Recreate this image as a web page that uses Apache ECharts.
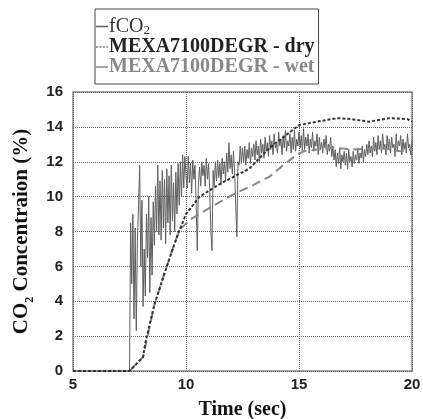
<!DOCTYPE html>
<html><head><meta charset="utf-8">
<script src="https://cdn.jsdelivr.net/npm/echarts@6/dist/echarts.min.js"></script>
<style>html,body{margin:0;padding:0;background:#fff}#c{width:423px;height:419px}</style>
</head><body><div id="c"></div>
<script>
// x ticks
const xTicks = [5, 10, 15, 20];
const yTicks = [0, 2, 4, 6, 8, 10, 12, 14, 16];

// fCO2: sampled every 0.05 s starting at 7.5 s (zero before)
const fco2Start = 7.5;
const fco2Step = 0.05;
const fco2Values = [
  0.0, 8.5, 5.0, 9.0, 3.0, 8.2, 2.3, 7.5, 9.5, 11.8,
  6.0, 9.8, 3.7, 7.0, 4.3, 9.0, 6.5, 10.0, 4.5, 8.8,
  5.5, 9.7, 7.2, 10.6, 8.0, 11.8, 7.8, 10.9, 7.5, 11.5,
  8.2, 11.0, 7.3, 11.6, 8.5, 11.2, 7.8, 11.8, 8.6, 10.8,
  8.0, 11.4, 9.0, 11.9, 9.5, 12.0, 10.0, 12.4, 10.5, 12.3,
  11.2,
  10.5, 12.3, 10.8, 11.9, 10.2, 12.1, 11.0, 11.8, 9.5, 6.9,
  10.8, 11.7, 10.6, 12.0, 11.2, 11.8, 10.6, 12.2, 11.0, 11.9,
  10.4, 8.0, 6.9, 11.5, 10.6, 12.0, 10.9, 12.1, 11.1, 11.9,
  10.7, 12.2, 11.3, 12.0, 10.9, 12.5, 11.4, 13.1, 11.6, 12.4,
  11.3, 12.6, 11.5, 9.5, 7.7, 12.0, 11.8, 12.9, 11.9, 12.8,
  12.0, 12.9, 11.8, 12.7, 12.2, 13.1, 11.9, 12.8, 12.3, 13.0,
  12.1, 13.2, 12.4, 12.9, 12.0, 13.3, 12.5, 13.0, 12.2, 13.4,
  12.6, 13.1, 12.3, 13.5, 12.7, 13.2, 12.4, 13.6, 12.8, 13.0,
  12.5, 13.7, 12.9, 13.3, 12.4, 13.5, 12.8, 13.8, 12.6, 13.2,
  12.9, 13.6, 12.5, 13.4, 12.7, 13.8, 12.6, 13.3, 12.9, 13.7,
  12.8, 13.5, 12.6, 13.9, 12.7, 13.4, 12.9, 13.6, 12.5, 13.3,
  12.8, 13.7, 12.6, 13.2, 12.9, 13.6, 12.4, 13.4, 12.7, 13.1,
  12.5, 13.3, 12.8, 13.5, 12.4, 13.0, 12.6, 13.4, 12.3, 12.9,
  12.1, 12.7, 11.7, 12.5, 11.9, 12.8, 11.6, 12.4, 12.0, 12.6,
  11.8, 12.5, 11.6, 12.7, 12.0, 12.3, 11.7, 12.6, 11.9, 12.4,
  12.1, 12.8, 11.9, 12.5, 12.2, 12.9, 12.0, 12.7, 12.3, 13.0,
  12.4, 13.2, 12.5, 12.9, 12.3, 13.4, 12.6, 13.1, 12.4, 13.5,
  12.7, 13.2, 12.5, 13.6, 12.8, 13.0, 12.4, 13.5, 12.7, 13.3,
  12.5, 13.4, 12.8, 13.0, 12.3, 13.6, 12.6, 13.2, 12.9, 13.5,
  12.4, 13.3, 12.7, 13.1, 12.5, 13.6, 12.8, 13.0, 12.4, 13.2
];

// MEXA7100DEGR - dry
const dryTimes = [5, 7.5, 8.1, 8.2, 8.6, 9.15, 9.6, 10.0, 10.6, 11.6, 12.8, 13.7, 14.3, 15.0, 15.8, 16.7, 17.3, 18.1, 19.0, 19.8, 20];
const dryValues = [0, 0, 0.8, 1.6, 3.8, 6.0, 7.7, 9.0, 10.0, 10.8, 11.6, 12.8, 13.4, 14.1, 14.3, 14.5, 14.45, 14.3, 14.5, 14.45, 14.3];

// MEXA7100DEGR - wet
const wetTimes = [5, 7.5, 8.1, 8.6, 9.15, 9.6, 9.75, 10.2, 11.1, 12.2, 12.8, 13.7, 14.3, 14.9, 15.2, 15.8, 16.5, 17.5, 18.5, 19.5, 20];
const wetValues = [0, 0, 0.8, 3.8, 6.0, 7.7, 8.15, 8.7, 9.4, 10.2, 10.55, 11.15, 11.8, 12.4, 12.6, 12.7, 12.8, 12.7, 12.8, 12.6, 12.7];

const names = ['fCO2', 'MEXA7100DEGR - dry', 'MEXA7100DEGR - wet'];

const fco2Data = [[5, 0]].concat(fco2Values.map((v, i) => [Math.round((fco2Start + i * fco2Step) * 100) / 100, v]));
const dryData = dryTimes.map((t, i) => [t, dryValues[i]]);
const wetData = wetTimes.map((t, i) => [t, wetValues[i]]);

const serif = 'Liberation Serif';
const dashIcon = 'path://M0,0h2v1h-2z M3.5,0h2v1h-2z M7,0h2v1h-2z M10.5,0h1.5v1h-1.5z';
const chart = echarts.init(document.getElementById('c'), null, {renderer: 'canvas'});
chart.setOption({
  animation: false,
  backgroundColor: '#fff',
  grid: {left: 73, right: 11, top: 92, bottom: 48, containLabel: false, outerBoundsMode: 'none',
         show: true, borderColor: '#888', borderWidth: 1.5, backgroundColor: 'transparent'},
  legend: {
    data: [
      {name: names[0], icon: 'rect'},
      {name: names[1], icon: dashIcon},
      {name: names[2], icon: 'rect'}
    ],
    left: 95, top: 9, orient: 'vertical',
    itemWidth: 12, itemHeight: 1.5, itemGap: 0,
    padding: [7, 4, 7, 1],
    borderColor: '#444', borderWidth: 1, backgroundColor: '#fff',
    formatter: function (n) {
      if (n === names[0]) return '{n|fCO}{s|2}';
      if (n === names[1]) return '{b|' + n + '}';
      return '{g|' + n + '}';
    },
    textStyle: {
      fontFamily: serif, fontSize: 20, padding: [0, 0, 0, -4],
      rich: {
        n: {fontFamily: serif, fontSize: 20, color: '#333', lineHeight: 19},
        s: {fontFamily: serif, fontSize: 13, color: '#333', lineHeight: 19, padding: [8, 0, 0, 0]},
        b: {fontFamily: serif, fontSize: 20, fontWeight: 'bold', color: '#222', lineHeight: 19},
        g: {fontFamily: serif, fontSize: 20, fontWeight: 'bold', color: '#888', lineHeight: 19}
      }
    }
  },
  xAxis: {
    type: 'value', min: xTicks[0], max: xTicks[xTicks.length - 1], interval: 5,
    name: 'Time (sec)', nameLocation: 'middle', nameGap: 29,
    nameTextStyle: {fontFamily: serif, fontWeight: 'bold', fontSize: 20, color: '#111'},
    axisLine: {show: false}, axisTick: {show: false},
    axisLabel: {fontFamily: 'Liberation Sans', fontWeight: 'bold', fontSize: 15, color: '#222', margin: 6},
    splitLine: {show: true, lineStyle: {color: '#666', type: [1, 1], width: 1}}
  },
  yAxis: {
    type: 'value', min: yTicks[0], max: yTicks[yTicks.length - 1], interval: 2,
    name: '{a|CO}{s|2}{a| Concentraion (%)}', nameLocation: 'middle', nameGap: 31, nameRotate: 90,
    nameTextStyle: {
      fontFamily: serif, fontWeight: 'bold', fontSize: 20, color: '#111',
      rich: {
        a: {fontFamily: serif, fontWeight: 'bold', fontSize: 21, color: '#111', lineHeight: 24},
        s: {fontFamily: serif, fontWeight: 'bold', fontSize: 12, color: '#111', lineHeight: 24, padding: [16, 0, 0, 0]}
      }
    },
    axisLine: {show: false}, axisTick: {show: false},
    axisLabel: {fontFamily: 'Liberation Sans', fontWeight: 'bold', fontSize: 15, color: '#222', margin: 10},
    splitLine: {show: true, lineStyle: {color: '#666', type: [1, 1], width: 1}}
  },
  series: [
    {name: names[0], type: 'line', data: fco2Data, symbol: 'none', z: 2,
     lineStyle: {color: '#5e5e5e', width: 1}, itemStyle: {color: '#5e5e5e'}},
    {name: names[2], type: 'line', data: wetData, symbol: 'none', z: 3,
     lineStyle: {color: '#888', width: 2, type: [9, 5]}, itemStyle: {color: '#888'}},
    {name: names[1], type: 'line', data: dryData, symbol: 'none', z: 4,
     lineStyle: {color: '#333', width: 2, type: [3, 2]}, itemStyle: {color: '#333'}}
  ]
});
</script>
</body></html>
